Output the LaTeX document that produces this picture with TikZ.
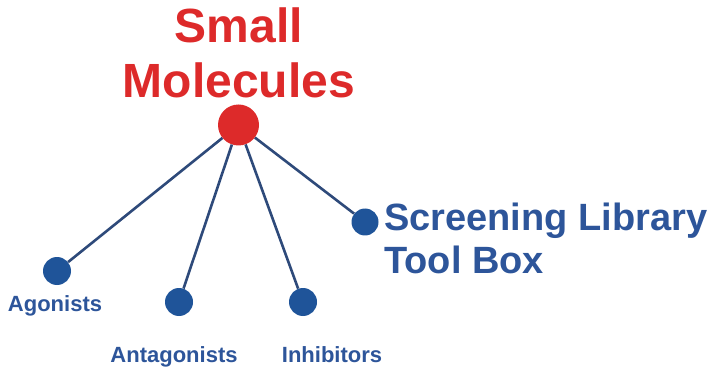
\documentclass[tikz,border=0pt]{standalone}
\usepackage{fontspec}
\setmainfont{Liberation Sans}
\usepackage{xcolor}
\usetikzlibrary{positioning}
\definecolor{hubred}{HTML}{DD2A2A}
\definecolor{leafblue}{HTML}{1F5499}
\definecolor{textblue}{HTML}{2D559A}
\definecolor{linkblue}{HTML}{2E4A7A}

\begin{document}
\begin{tikzpicture}[
  x=1pt, y=-1pt,
  hub/.style={circle, fill=hubred, inner sep=0pt, minimum size=41pt},
  leaf/.style={circle, fill=leafblue, inner sep=0pt, minimum size=28pt},
  lbl/.style={text=textblue, inner sep=0pt, font=\fontsize{22}{26}\selectfont\bfseries},
  link/.style={draw=linkblue, line width=2.6pt},
]
\useasboundingbox (0,0) rectangle (722,371);

\node[hub] (hub) at (238.5,125) {};
\node[text=hubred, inner sep=0pt, align=center, anchor=base,
      font=\fontsize{48}{55}\selectfont\bfseries] (title) at (239,98) {Small\\Molecules};

\node[leaf] (ago) at (57,271) {};
\node[leaf] (ant) at (179,302) {};
\node[leaf] (inh) at (303,302) {};
\node[leaf, minimum size=27pt] (scr) at (365,222) {};

\node[lbl, below=10pt of ago, xshift=-2pt] (agolbl) {Agonists};
\node[lbl, below=30pt of ant, xshift=-5pt] (antlbl) {Antagonists};
\node[lbl, below=30pt of inh, xshift=29pt] (inhlbl) {Inhibitors};
\node[lbl, anchor=base west, align=left, font=\fontsize{38}{43}\selectfont\bfseries]
  (scrlbl) at (384,273) {Screening Library\\Tool Box};

\draw[link] (hub) -- (ago);
\draw[link] (hub) -- (ant);
\draw[link] (hub) -- (inh);
\draw[link] (hub) -- (scr);
\end{tikzpicture}
\end{document}
